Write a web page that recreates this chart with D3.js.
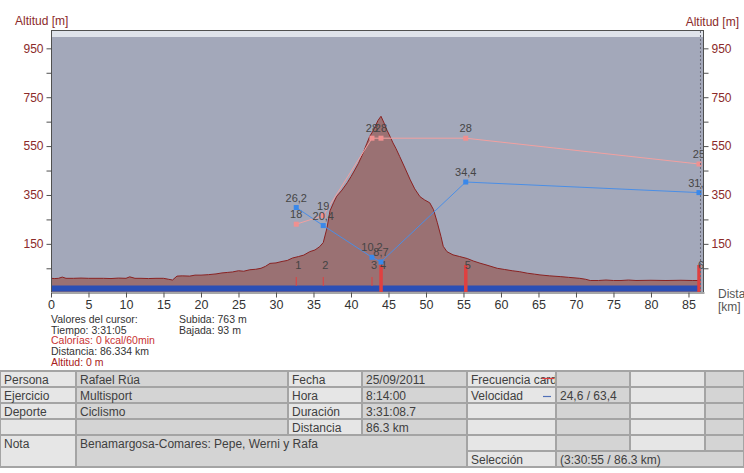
<!DOCTYPE html>
<html><head><meta charset="utf-8">
<script src="https://cdn.jsdelivr.net/npm/d3@7"></script>
<style>body{margin:0;background:#fff}svg{display:block;font-family:"Liberation Sans",Arial,sans-serif}</style>
</head><body><svg id="c" width="744" height="473"></svg>
<script>
// ---- data ----
const profileKm = [0,0.5,1,1.5,2,3,4,5,6,7,8,9,10,10.5,11.2,12,13,14,15,15.7,16.2,16.8,17.5,18.5,19.2,20,21,22,22.8,23.5,24.2,25,25.7,26.5,27.3,28,28.6,29.2,30,30.8,31.5,32.2,33,33.7,34.5,35.2,35.8,36.3,36.8,37.2,37.7,38.1,38.8,39.5,40,40.5,41,41.6,42.1,42.5,43,43.6,44,44.4,44.8,45.2,45.6,46,46.5,47.2,47.9,48.5,49.2,49.8,50.5,51,51.5,52,52.3,52.8,53.6,54.5,55.5,56.3,57.2,58,59.5,60.5,61.5,62.5,63.5,64.5,65.2,66.5,67.9,69,70.5,71.3,71.9,73,74,75,76,77,78,80,82,84,85.5,86.33];
const profileAlt = [9,8,9,14,9,9,10,9,9,9,8,10,9,15,9,9,8,9,9,5,2,18,19,18,22,22,24,27,31,33,35,40,38,44,46,50,58,70,72,78,82,92,98,104,118,125,138,155,215,285,320,345,370,400,425,452,480,520,560,590,615,655,672,645,615,590,563,540,507,460,412,375,343,330,318,290,238,180,140,118,105,98,90,80,71,64,50,45,40,36,30,26,23,19,16,13,9,5,0,0,2,0,0,2,0,1,0,1,0,0];
const lapNames = ["1","2","3","4","5","6"];
const lapKm = [32.7,36.3,42.8,44.0,55.3,86.4];
const speedVals = [26.2,20.4,10.2,8.7,34.4,31.0];
const hrVals = [18,19,28,28,28,25];
const altTicks = [50,150,250,350,450,550,650,750,850,950];
const altLabels = [150,350,550,750,950];
const distTicks = [0,5,10,15,20,25,30,35,40,45,50,55,60,65,70,75,80,85];
const selectionKm = 86.3;
const cursorKm = 86.6;
const cursorLines = ["Valores del cursor:","Tiempo: 3:31:05","Calorías: 0 kcal/60min","Distancia: 86.334 km","Altitud: 0 m"];
const climbLines = ["Subida: 763 m","Bajada: 93 m"];
const personLabels = ["Persona","Ejercicio","Deporte",""];
const personValues = ["Rafael Rúa","Multisport","Ciclismo",""];
const infoLabels = ["Fecha","Hora","Duración","Distancia"];
const infoValues = ["25/09/2011","8:14:00","3:31:08.7","86.3 km"];
const seriesNames = ["Frecuencia cardíaca","Velocidad"];
const seriesStats = ["","24,6 / 63,4"];
const noteText = "Benamargosa-Comares: Pepe, Werni y Rafa";
const selectionText = "(3:30:55 / 86.3 km)";

// ---- layout ----
const svg = d3.select("#c");
const L=51, R=704, T=30, B=292;
const x = d3.scaleLinear().domain([0,87.07]).range([L,R]);
const y = d3.scaleLinear().domain([-47,1025]).range([B,T]);
const ySpeed = d3.scaleLinear().domain([0,80]).range([289,40.2]);
const yHr = d3.scaleLinear().domain([0,40]).range([379,35]);
const red="#8b2a2a";

svg.append("defs").append("clipPath").attr("id","pc").append("rect").attr("x",L).attr("y",T).attr("width",R-L-1).attr("height",B-T);

svg.append("rect").attr("x",L).attr("y",T).attr("width",R-L).attr("height",B-T).attr("fill","#a3a8ba");
svg.append("rect").attr("x",L).attr("y",T+1).attr("width",R-L).attr("height",6).attr("fill","#dfe3eb");

const g = svg.append("g").attr("clip-path","url(#pc)");
const pts = profileKm.map((k,i)=>[k,profileAlt[i]]);
g.append("path").datum(pts).attr("fill","#9a7173")
  .attr("d",d3.area().x(d=>x(d[0])).y0(B).y1(d=>y(d[1])));
g.append("path").datum(pts).attr("fill","none").attr("stroke","#8a2222").attr("stroke-width",1)
  .attr("d",d3.line().x(d=>x(d[0])).y(d=>y(d[1])));
// selection bar
g.append("rect").attr("x",x(0)).attr("y",285.5).attr("width",x(selectionKm)-x(0)).attr("height",6).attr("fill","#2b4fb5");
// lap bars
lapKm.forEach((k,i)=>{
  const major = i>=3;
  g.append("rect").attr("x",x(k)-(major?1.7:0.5)).attr("y",major?265:277)
   .attr("width",major?3.5:1).attr("height",major?27:9).attr("fill","#e04040");
  g.append("text").attr("x",x(k)+2).attr("y",269).attr("text-anchor","middle")
   .attr("font-size",11).attr("fill","#444").text(lapNames[i]);
});
// series
function series(vals, ys, col, ptcol, fmt){
  const d = lapKm.map((k,i)=>[k,vals[i]]);
  g.append("path").datum(d).attr("fill","none").attr("stroke",col).attr("stroke-width",1)
   .attr("d",d3.line().x(p=>x(p[0])).y(p=>ys(p[1])));
  d.forEach(p=>{
    g.append("rect").attr("x",x(p[0])-2.5).attr("y",ys(p[1])-2.5).attr("width",5).attr("height",5).attr("fill",ptcol);
    g.append("text").attr("x",x(p[0])).attr("y",ys(p[1])-6).attr("text-anchor","middle")
     .attr("font-size",11).attr("fill","#454545").text(fmt(p[1]));
  });
}
series(hrVals, yHr, "#f2a0a0", "#f09090", v=>String(v));
series(speedVals, ySpeed, "#4a8ee6", "#3a88ea", v=>v.toFixed(1).replace(".",","));
// cursor line
svg.append("line").attr("x1",x(cursorKm)).attr("x2",x(cursorKm)).attr("y1",T+1).attr("y2",B)
  .attr("stroke","#6a6a7a").attr("stroke-dasharray","2,2");

// frame
svg.append("line").attr("x1",L).attr("x2",R).attr("y1",T+0.5).attr("y2",T+0.5).attr("stroke","#505050");
svg.append("line").attr("x1",L+0.5).attr("x2",L+0.5).attr("y1",T).attr("y2",B).attr("stroke","#505050");
svg.append("line").attr("x1",R-0.5).attr("x2",R-0.5).attr("y1",T).attr("y2",B).attr("stroke","#505050");

// axes
function styleAxis(sel, col){
  sel.select(".domain").attr("stroke","#505050");
  sel.selectAll(".tick line").attr("stroke","#505050");
  sel.selectAll(".tick text").attr("fill",col).attr("font-size",12).attr("font-family","Liberation Sans, Arial, sans-serif");
}
const fmtAlt = v => altLabels.includes(v) ? String(v) : "";
const ax1 = svg.append("g").attr("transform",`translate(${L+0.5},0)`)
  .call(d3.axisLeft(y).tickValues(altTicks).tickFormat(fmtAlt).tickSize(5).tickPadding(3).tickSizeOuter(0));
ax1.select(".domain").remove(); styleAxis(ax1, red);
const ax2 = svg.append("g").attr("transform",`translate(${R-0.5},0)`)
  .call(d3.axisRight(y).tickValues(altTicks).tickFormat(fmtAlt).tickSize(5).tickPadding(3).tickSizeOuter(0));
ax2.select(".domain").remove(); styleAxis(ax2, red);
const ax3 = svg.append("g").attr("transform",`translate(0,${B+0.5})`)
  .call(d3.axisBottom(x).tickValues(distTicks).tickFormat(d3.format("d")).tickSize(5).tickPadding(3).tickSizeOuter(0));
styleAxis(ax3, "#333");
ax3.selectAll(".tick text").attr("font-size",12.5);

svg.append("text").attr("x",15).attr("y",25).attr("font-size",12).attr("fill",red).text("Altitud [m]");
svg.append("text").attr("x",739).attr("y",26).attr("text-anchor","end").attr("font-size",12).attr("fill",red).text("Altitud [m]");
svg.append("text").attr("x",718).attr("y",298).attr("font-size",12).attr("fill","#555").text("Distancia");
svg.append("text").attr("x",718).attr("y",311).attr("font-size",12).attr("fill","#555").text("[km]");

// cursor info
const cursorCols = ["#333","#333","#c83232","#333","#a82020"];
cursorLines.forEach((t,i)=>svg.append("text").attr("x",51).attr("y",323+i*10.7).attr("font-size",10.5).attr("fill",cursorCols[i]).text(t));
climbLines.forEach((t,i)=>svg.append("text").attr("x",179).attr("y",323+i*10.7).attr("font-size",10.5).attr("fill","#333").text(t));

// table
const cols=[0,76,288,362,467,556,630,705,744];
const rows=[371,387,403,419,435,451,467];
const tb = svg.append("g");
tb.append("rect").attr("x",0).attr("y",rows[0]-1).attr("width",744).attr("height",rows[6]-rows[0]+2).attr("fill","#a4a4a4");
const light="#e6e6e6", dark="#d4d4d4";
function cell(c0,c1,r0,r1,fill,txt){
  const x0=cols[c0], x1=cols[c1], y0=rows[r0], y1=rows[r1];
  tb.append("rect").attr("x",x0+1).attr("y",y0+1).attr("width",x1-x0-2).attr("height",y1-y0-2).attr("fill",fill);
  if(txt){
    const id="cl"+c0+"_"+r0;
    tb.append("clipPath").attr("id",id).append("rect").attr("x",x0+1).attr("y",y0).attr("width",x1-x0-2).attr("height",y1-y0);
    tb.append("text").attr("clip-path",`url(#${id})`).attr("x",x0+4).attr("y",y0+12.5).attr("font-size",12).attr("fill","#404040").text(txt);
  }
}
for(let r=0;r<4;r++){
  cell(0,1,r,r+1,light,personLabels[r]);
  cell(1,2,r,r+1,dark,personValues[r]);
  cell(2,3,r,r+1,light,infoLabels[r]);
  cell(3,4,r,r+1,dark,infoValues[r]);
}
for(let r=0;r<5;r++){
  cell(4,5,r,r+1,light,seriesNames[r]||"");
  cell(5,6,r,r+1,dark,seriesStats[r]||"");
  cell(6,7,r,r+1,light,"");
  cell(7,8,r,r+1,dark,"");
}
cell(0,1,4,6,light,"Nota");
cell(1,4,4,6,dark,noteText);
cell(4,5,5,6,light,"Selección");
cell(5,8,5,6,dark,selectionText);
// legend dashes
tb.append("line").attr("x1",542).attr("x2",554).attr("y1",378.5).attr("y2",378.5).attr("stroke","#e04040").attr("stroke-width",1.2);
tb.append("line").attr("x1",543).attr("x2",551).attr("y1",396.5).attr("y2",396.5).attr("stroke","#5070b8").attr("stroke-width",1.2);
</script></body></html>
